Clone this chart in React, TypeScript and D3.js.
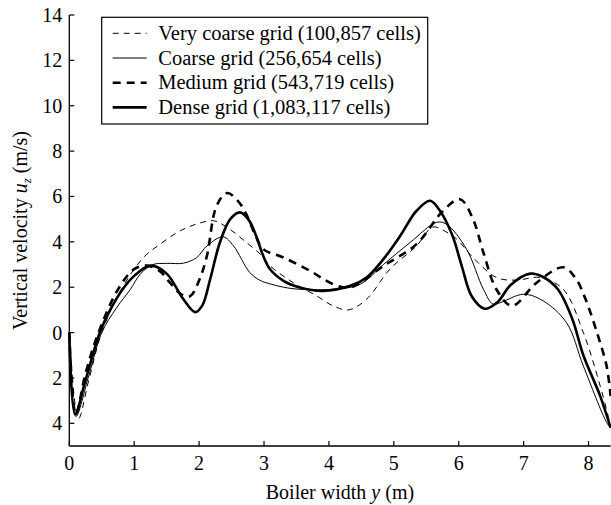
import React from "react";
import * as d3 from "d3";

// ---- data ----
const veryCoarseX = [0, 0.14, 0.3, 0.5, 0.8, 1.14, 1.4, 1.71, 2.0, 2.22, 2.43, 2.73, 2.94, 3.09, 3.45, 3.81, 4.05, 4.3, 4.58, 4.94, 5.35, 5.6, 5.8, 5.97, 6.22, 6.58, 6.89, 7.25, 7.61, 7.92, 8.18, 8.34];
const veryCoarseY = [0, -3.8, -2.1, 0, 1.9, 3.3, 3.9, 4.49, 4.82, 4.93, 4.64, 3.97, 3.46, 2.95, 2.2, 1.62, 1.2, 1.0, 1.47, 2.8, 3.82, 4.65, 4.45, 4.12, 3.31, 2.43, 2.31, 2.43, 1.91, 0, -2.36, -4.1];

const coarseX = [0, 0.1, 0.3, 0.5, 0.73, 0.94, 1.1, 1.29, 1.5, 1.76, 1.96, 2.12, 2.37, 2.53, 2.78, 2.94, 3.09, 3.3, 3.55, 4.07, 4.48, 4.84, 5.25, 5.66, 5.81, 6.12, 6.38, 6.53, 6.64, 7.0, 7.3, 7.66, 7.92, 8.28, 8.34];
const coarseY = [0, -3.7, -1.9, 0, 1.1, 1.9, 2.6, 3.0, 3.05, 3.06, 3.3, 3.82, 4.22, 3.82, 2.65, 2.3, 2.15, 2.0, 1.91, 1.91, 2.13, 3.0, 3.97, 4.86, 4.78, 3.68, 1.91, 1.25, 1.32, 1.69, 1.4, 0.44, -1.47, -3.97, -4.2];

const mediumX = [0, 0.1, 0.25, 0.45, 0.75, 1.0, 1.2, 1.4, 1.55, 1.72, 1.86, 2.0, 2.12, 2.27, 2.43, 2.6, 2.73, 2.85, 2.99, 3.3, 3.71, 4.07, 4.33, 4.84, 5.35, 5.76, 6.02, 6.22, 6.38, 6.58, 6.82, 7.2, 7.61, 7.8, 7.95, 8.13, 8.28, 8.34];
const mediumY = [0, -3.6, -1.8, 0, 1.9, 2.8, 2.95, 2.7, 2.2, 1.7, 1.6, 2.3, 3.38, 5.59, 6.15, 5.8, 5.2, 4.4, 3.68, 3.31, 2.72, 2.13, 1.99, 2.94, 3.9, 5.37, 5.88, 5.0, 3.53, 1.91, 1.18, 2.2, 2.88, 2.4, 1.5, 0, -1.5, -2.8];

const denseX = [0, 0.09, 0.25, 0.47, 0.63, 0.82, 1.0, 1.25, 1.5, 1.75, 1.94, 2.05, 2.17, 2.32, 2.48, 2.63, 2.78, 3.0, 3.09, 3.3, 3.55, 3.91, 4.33, 4.58, 4.84, 5.1, 5.35, 5.56, 5.71, 5.9, 6.05, 6.2, 6.4, 6.6, 6.8, 7.1, 7.3, 7.53, 7.75, 7.92, 8.18, 8.34];
const denseY = [0, -3.6, -2.1, 0, 1.0, 1.9, 2.5, 2.95, 2.6, 1.5, 0.9, 1.2, 2.35, 3.97, 5.0, 5.3, 4.9, 3.3, 2.8, 2.28, 1.99, 1.84, 2.06, 2.43, 3.24, 4.27, 5.37, 5.81, 5.37, 4.3, 2.9, 1.6, 1.05, 1.35, 2.1, 2.6, 2.45, 1.9, 0.6, -1.0, -2.8, -4.2];

const seriesNames = [
  "Very coarse grid (100,857 cells)",
  "Coarse grid (256,654 cells)",
  "Medium grid (543,719 cells)",
  "Dense grid (1,083,117 cells)",
];

const xTicks = [0, 1, 2, 3, 4, 5, 6, 7, 8];
const xTickLabels = ["0", "1", "2", "3", "4", "5", "6", "7", "8"];
const yTicks = [14, 12, 10, 8, 6, 4, 2, 0, -2, -4];
const yTickLabels = ["14", "12", "10", "8", "6", "4", "2", "0", "2", "4"];

// ---- styles ----
const styles = [
  { width: 1, dash: "6,5" },
  { width: 1, dash: "" },
  { width: 2.6, dash: "8,6" },
  { width: 2.6, dash: "" },
];

const W = 611;
const H = 505;
const FONT = "Liberation Serif";
const txt: React.CSSProperties = { fontFamily: FONT };

export default function App() {
  const x = d3.scaleLinear().domain([0, 8.34]).range([69.3, 610.6]);
  const y = d3.scaleLinear().domain([-5, 14]).range([446, 15]);

  const line = d3
    .line<[number, number]>()
    .x((d) => x(d[0]))
    .y((d) => y(d[1]))
    .curve(d3.curveCatmullRom.alpha(0.5));

  const series = [
    d3.zip(veryCoarseX, veryCoarseY) as [number, number][],
    d3.zip(coarseX, coarseY) as [number, number][],
    d3.zip(mediumX, mediumY) as [number, number][],
    d3.zip(denseX, denseY) as [number, number][],
  ];

  const x0 = x(0);
  const yb = y(-5);

  return (
    <svg
      width={W}
      height={H}
      style={{ position: "absolute", left: 0, top: 0, background: "#fff", fontFamily: FONT }}
    >
      <rect x={0} y={0} width={W} height={H} fill="#fff" />
      {series.map((s, i) => (
        <path
          key={i}
          d={line(s) || ""}
          fill="none"
          stroke="#000"
          strokeWidth={styles[i].width}
          strokeDasharray={styles[i].dash || undefined}
          strokeLinejoin="round"
        />
      ))}

      {/* axes */}
      <line x1={x0} x2={x0} y1={y(14)} y2={yb} stroke="#000" strokeWidth={1.3} />
      <line x1={x0} x2={x(8.34)} y1={yb} y2={yb} stroke="#000" strokeWidth={1.3} />
      {yTicks.map((t, i) => (
        <g key={"yt" + i}>
          <line x1={x0} x2={x0 + 5} y1={y(t)} y2={y(t)} stroke="#000" strokeWidth={1.2} />
          <text style={txt} x={x0 - 7} y={y(t) + 7} textAnchor="end" fontSize={20} fill="#000">
            {yTickLabels[i]}
          </text>
        </g>
      ))}
      {xTicks.map((t, i) => (
        <g key={"xt" + i}>
          <line x1={x(t)} x2={x(t)} y1={yb} y2={yb - 5} stroke="#000" strokeWidth={1.2} />
          <text style={txt} x={x(t)} y={470} textAnchor="middle" fontSize={20} fill="#000">
            {xTickLabels[i]}
          </text>
        </g>
      ))}

      {/* axis titles */}
      <text style={txt} x={(x0 + x(8.34)) / 2} y={499} textAnchor="middle" fontSize={20} fill="#000">
        Boiler width <tspan fontStyle="italic">y</tspan> (m)
      </text>
      <text
        style={txt}
        transform={`translate(27, ${(y(14) + yb) / 2}) rotate(-90)`}
        textAnchor="middle"
        fontSize={20}
        fill="#000"
      >
        Vertical velocity <tspan fontStyle="italic">u</tspan>
        <tspan fontStyle="italic" fontSize={13} dy={4}>z</tspan>
        <tspan dy={-4}> (m/s)</tspan>
      </text>

      {/* legend */}
      <rect x={101.7} y={17.3} width={326} height={106.7} fill="#fff" stroke="#000" strokeWidth={1.2} />
      {seriesNames.map((name, i) => {
        const cy = 33.3 + i * 24.7;
        return (
          <g key={"lg" + i}>
            <line
              x1={112.7}
              x2={146.7}
              y1={cy}
              y2={cy}
              stroke="#000"
              strokeWidth={styles[i].width}
              strokeDasharray={styles[i].dash || undefined}
            />
            <text style={txt} x={158.3} y={cy + 6.5} fontSize={20.5} fill="#000">
              {name}
            </text>
          </g>
        );
      })}
    </svg>
  );
}
